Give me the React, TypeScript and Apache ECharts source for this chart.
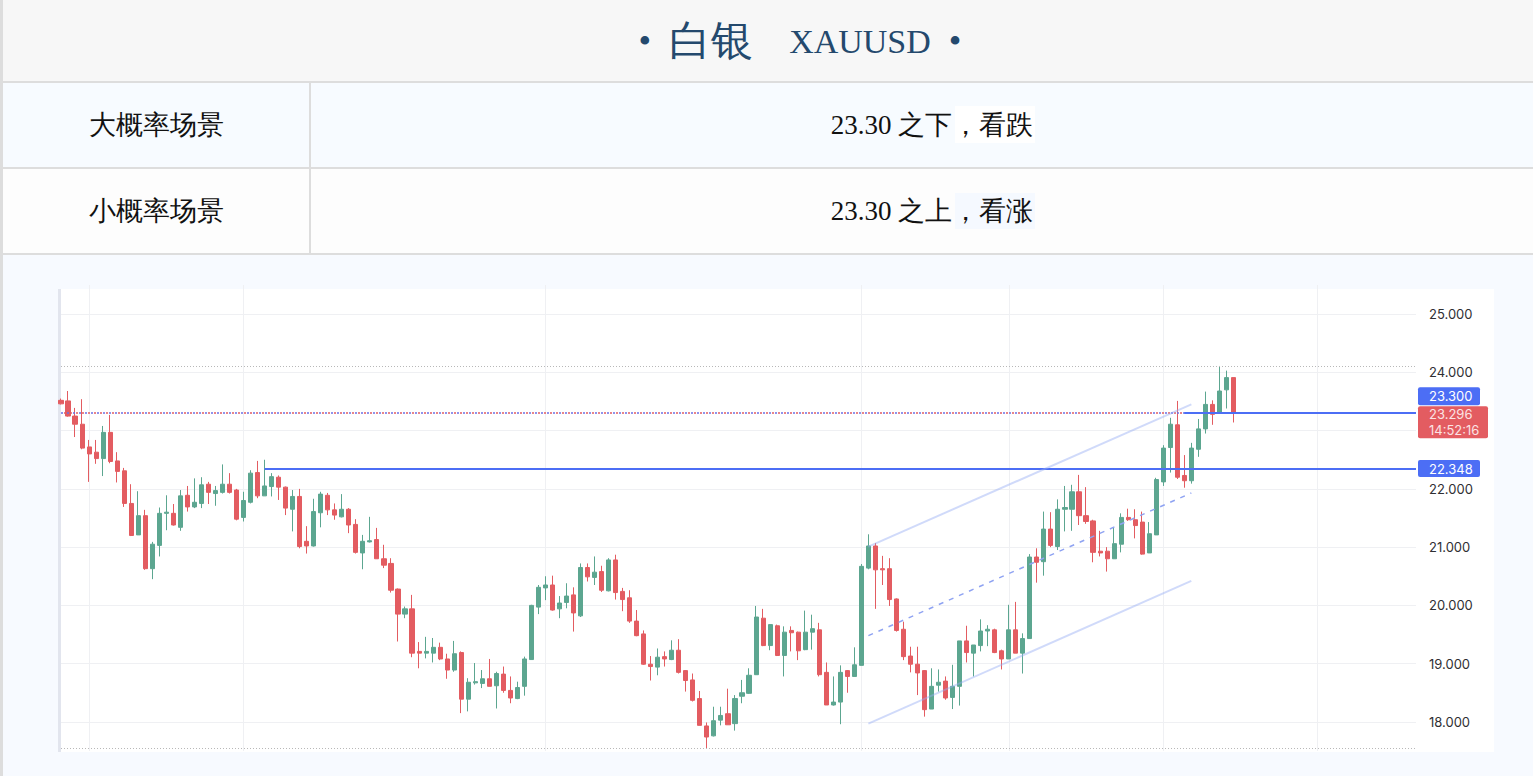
import React, { useEffect, useRef } from 'react';
import * as echarts from 'echarts';

// ---- data ----
const opens = [
  23.52, 23.51, 23.25, 23.11, 22.72, 22.63, 22.52, 22.97, 22.48, 22.31,
  21.75, 21.21, 21.54, 20.63, 21.03, 21.58, 21.58, 21.34, 21.89, 21.69,
  21.75, 22.08, 21.92, 21.94, 22.08, 21.98, 21.51, 21.77, 22.28, 21.88,
  22.04, 22.20, 22.03, 21.65, 21.87, 21.10, 21.02, 21.59, 21.89, 21.64,
  21.52, 21.65, 21.39, 20.90, 21.09, 21.13, 20.80, 20.72, 20.28, 19.85,
  19.94, 19.21, 19.18, 19.18, 19.28, 19.08, 18.89, 19.19, 18.39, 18.67,
  18.66, 18.74, 18.62, 18.82, 18.54, 18.40, 18.61, 19.07, 19.97, 20.30,
  20.35, 19.94, 20.05, 20.18, 19.82, 20.65, 20.48, 20.58, 20.25, 20.78,
  20.24, 20.13, 19.73, 19.51, 18.99, 18.94, 19.12, 19.07, 19.23, 18.88,
  18.72, 18.40, 17.93, 17.76, 18.03, 18.14, 17.97, 18.44, 18.49, 18.81,
  19.78, 19.31, 19.65, 19.14, 19.57, 19.54, 19.24, 19.54, 19.58, 18.85,
  18.29, 18.34, 18.88, 18.78, 18.97, 20.64, 21.02, 20.63, 20.63, 20.11,
  19.59, 19.13, 18.99, 18.88, 18.22, 18.63, 18.70, 18.42, 18.61, 19.39,
  19.18, 19.31, 19.56, 19.58, 19.22, 19.08, 19.58, 19.18, 19.43, 20.83,
  20.75, 21.31, 21.01, 21.65, 21.65, 21.95, 21.54, 21.45, 20.93, 20.93,
  20.80, 21.05, 21.51, 21.47, 21.43, 20.90, 21.21, 22.12, 22.71, 23.10,
  22.23, 22.14, 22.68, 23.03, 23.45, 23.30, 23.70, 23.91,
];
const closes = [
  23.46, 23.25, 23.11, 22.70, 22.60, 22.52, 22.97, 22.47, 22.30, 21.75,
  21.20, 21.54, 20.63, 21.05, 21.58, 21.60, 21.38, 21.88, 21.69, 21.77,
  22.07, 21.94, 21.97, 22.08, 21.94, 21.48, 21.80, 22.27, 21.88, 22.05,
  22.21, 22.03, 21.67, 21.87, 21.01, 21.02, 21.61, 21.91, 21.64, 21.55,
  21.65, 21.38, 20.91, 21.10, 21.11, 20.80, 20.69, 20.26, 19.85, 19.94,
  19.18, 19.18, 19.21, 19.28, 19.08, 18.89, 19.17, 18.39, 18.68, 18.69,
  18.74, 18.61, 18.83, 18.54, 18.41, 18.59, 19.08, 20.00, 20.31, 20.35,
  19.92, 20.04, 20.16, 19.87, 20.65, 20.49, 20.57, 20.26, 20.78, 20.22,
  20.10, 19.73, 19.48, 18.99, 18.95, 19.11, 19.08, 19.23, 18.85, 18.71,
  18.37, 17.94, 17.74, 18.02, 18.11, 17.95, 18.40, 18.50, 18.80, 19.80,
  19.31, 19.67, 19.14, 19.54, 19.53, 19.22, 19.54, 19.60, 18.81, 18.29,
  18.34, 18.85, 18.78, 18.98, 20.67, 21.02, 20.61, 20.61, 20.10, 19.57,
  19.12, 18.99, 18.84, 18.21, 18.61, 18.68, 18.41, 18.61, 19.39, 19.19,
  19.32, 19.56, 19.59, 19.19, 19.08, 19.58, 19.18, 19.43, 20.83, 20.74,
  21.31, 21.03, 21.65, 21.68, 21.95, 21.54, 21.44, 20.91, 20.90, 20.80,
  21.06, 21.51, 21.47, 21.37, 20.88, 21.23, 22.16, 22.70, 23.11, 22.20,
  22.14, 22.70, 23.03, 23.45, 23.28, 23.68, 23.91, 23.296,
];
const lows = [
  23.45, 23.24, 22.89, 22.68, 22.12, 22.43, 22.22, 22.44, 22.11, 21.69,
  21.19, 21.21, 20.61, 20.45, 20.84, 21.29, 21.37, 21.28, 21.61, 21.67,
  21.67, 21.74, 21.71, 21.92, 21.92, 21.46, 21.44, 21.75, 21.84, 21.88,
  21.87, 21.81, 21.55, 21.27, 20.98, 20.89, 21.01, 21.34, 21.55, 21.47,
  21.51, 21.24, 20.89, 20.62, 21.08, 20.80, 20.64, 20.22, 19.38, 19.78,
  19.11, 18.92, 19.09, 19.02, 19.06, 18.74, 18.86, 18.15, 18.18, 18.64,
  18.58, 18.61, 18.23, 18.50, 18.32, 18.39, 18.45, 19.07, 19.85, 20.09,
  19.91, 19.78, 19.95, 19.55, 19.80, 20.41, 20.35, 20.23, 20.24, 20.10,
  19.90, 19.70, 19.47, 18.98, 18.71, 18.80, 18.95, 19.06, 18.83, 18.52,
  18.35, 17.94, 17.55, 17.75, 17.94, 17.95, 17.85, 18.32, 18.48, 18.81,
  19.30, 19.23, 19.13, 18.78, 19.21, 19.06, 19.23, 19.24, 18.78, 18.29,
  18.28, 17.96, 18.50, 18.78, 18.97, 20.62, 19.94, 20.35, 19.99, 19.55,
  19.06, 18.85, 18.46, 18.09, 18.22, 18.52, 18.38, 18.22, 18.28, 19.02,
  18.78, 19.21, 19.30, 19.18, 18.90, 19.08, 19.18, 18.83, 19.43, 20.39,
  20.51, 21.00, 20.95, 21.27, 21.28, 21.38, 21.40, 20.74, 20.84, 20.58,
  20.80, 20.91, 21.45, 21.15, 20.87, 20.90, 21.21, 22.05, 22.28, 22.17,
  22.02, 22.09, 22.55, 22.95, 23.10, 23.30, 23.38, 23.14,
];
const highs = [
  23.55, 23.68, 23.39, 23.54, 22.84, 22.84, 23.08, 23.27, 22.63, 22.36,
  22.08, 21.96, 21.64, 21.09, 21.68, 21.89, 21.74, 21.98, 22.05, 22.18,
  22.20, 22.12, 22.05, 22.42, 22.27, 22.00, 21.95, 22.32, 22.48, 22.50,
  22.27, 22.23, 22.04, 21.98, 22.00, 21.36, 21.83, 21.95, 21.93, 21.75,
  21.91, 21.67, 21.48, 21.21, 21.52, 21.33, 21.04, 20.81, 20.29, 19.98,
  20.18, 19.37, 19.46, 19.44, 19.36, 19.17, 19.39, 19.21, 18.75, 19.01,
  18.89, 19.08, 18.86, 18.95, 18.78, 18.69, 19.12, 20.01, 20.35, 20.50,
  20.51, 20.16, 20.38, 20.31, 20.72, 20.72, 20.84, 20.68, 20.81, 20.87,
  20.30, 20.26, 19.92, 19.57, 19.13, 19.26, 19.21, 19.40, 19.42, 18.89,
  18.83, 18.53, 17.99, 18.26, 18.26, 18.57, 18.46, 18.72, 18.92, 19.99,
  19.94, 19.68, 19.67, 19.64, 19.64, 19.55, 19.91, 19.84, 19.70, 19.02,
  18.78, 18.97, 18.89, 19.28, 20.71, 21.22, 21.07, 20.85, 20.81, 20.12,
  19.72, 19.29, 19.29, 18.89, 18.92, 18.90, 18.78, 18.98, 19.39, 19.65,
  19.32, 19.76, 19.66, 19.60, 19.24, 20.01, 20.06, 19.52, 20.88, 20.98,
  21.61, 21.60, 21.82, 22.05, 22.07, 22.24, 22.03, 21.47, 21.28, 21.00,
  21.33, 21.58, 21.66, 21.65, 21.61, 21.43, 22.19, 22.75, 23.22, 23.51,
  22.58, 22.79, 23.20, 23.67, 23.52, 24.11, 24.03, 23.91,
];

const TOTAL_SLOTS = 194; // candles plus empty space to the right
const categories = Array.from({ length: TOTAL_SLOTS }, (_, i) => String(i));
const periodStartIdx = [4, 26, 69, 114, 135, 157, 179];

const resistanceLevel = 23.3;
const resistanceSolidStartIdx = 160;
const supportLevel = 22.348;
const supportStartIdx = 29;
const lastTime = '14:52:16';

const channelUpper = [[115, 21.01], [161, 23.45]];
const channelMid = [[115, 19.48], [161, 21.93]];
const channelLower = [[115, 17.97], [161, 20.42]];

const titleCn = '白银';
const titleSymbol = 'XAUUSD';
const rowLabels = ['大概率场景', '小概率场景'];
const rowValues = ['23.30 之下，看跌', '23.30 之上，看涨'];

const UP = '#5ca690';
const DOWN = '#e35c61';
const BLUE = '#4c6ef5';

export default function App() {
  const ref = useRef<HTMLDivElement>(null);

  useEffect(() => {
    document.body.style.margin = '0';
    const el = ref.current!;
    const chart = echarts.init(el, null, { renderer: 'svg' });
    const last = TOTAL_SLOTS - 1;
    const candleData = opens.map((o, i) => [o, closes[i], lows[i], highs[i]]);
    const maxHigh = Math.max(...highs);
    const minLow = Math.min(...lows);
    const lastClose = closes[closes.length - 1];

    const hLine = (from: number, value: number, lineStyle: any) => [
      { coord: [from, value], lineStyle },
      { coord: [last, value] },
    ];
    const seg = (pts: number[][], lineStyle: any) => [
      { coord: pts[0], lineStyle },
      { coord: pts[1] },
    ];

    const option: any = {
      animation: false,
      backgroundColor: 'transparent',
      grid: { left: 61, top: 285, width: 1355, height: 466 },
      xAxis: {
        type: 'category',
        data: categories,
        boundaryGap: false,
        axisLine: { show: false },
        axisTick: { show: false },
        axisLabel: { show: false },
        splitLine: {
          show: true,
          interval: (i: number) => periodStartIdx.includes(i),
          lineStyle: { color: '#eff0f3', width: 1 },
        },
      },
      yAxis: {
        type: 'value',
        position: 'right',
        min: 17.5,
        max: 25.5,
        interval: 0.5,
        axisLine: { show: false },
        axisTick: { show: false },
        axisLabel: {
          margin: 13,
          color: '#2f2f33',
          fontSize: 13,
          fontFamily: 'Inter',
          formatter: (v: number) => {
            const r = Math.round(v);
            if (Math.abs(v - r) > 1e-6 || r === 23) return '';
            return v.toFixed(3);
          },
        },
        splitLine: {
          show: true,
          lineStyle: { color: ['rgba(0,0,0,0)', '#eff0f3'], width: 1 },
        },
      },
      series: [
        {
          type: 'candlestick',
          data: candleData,
          barWidth: 4.6,
          clip: true,
          itemStyle: {
            color: UP,
            color0: DOWN,
            borderColor: UP,
            borderColor0: DOWN,
            borderWidth: 1,
          },
          markLine: {
            silent: true,
            symbol: ['none', 'none'],
            label: { show: false },
            animation: false,
            data: [
              hLine(0, maxHigh, { color: '#b8b8b8', width: 1, type: [1, 2] }),
              hLine(0, minLow, { color: '#b8b8b8', width: 1, type: [1, 2] }),
              hLine(0, resistanceLevel, { color: '#6a70e8', width: 1.5, type: [2, 4] }),
              hLine(0, resistanceLevel, { color: DOWN, width: 1.5, type: [2, 4], dashOffset: 3 }),
              hLine(resistanceSolidStartIdx, resistanceLevel, { color: BLUE, width: 2, type: 'solid' }),
              hLine(supportStartIdx, supportLevel, { color: BLUE, width: 2, type: 'solid' }),
              seg(channelUpper, { color: 'rgba(150,172,245,0.45)', width: 2, type: 'solid' }),
              seg(channelLower, { color: 'rgba(150,172,245,0.45)', width: 2, type: 'solid' }),
              seg(channelMid, { color: '#8fa3f2', width: 1.5, type: [5, 6] }),
            ],
          },
        },
      ],
    };
    chart.setOption(option);

    const yRes = chart.convertToPixel({ yAxisIndex: 0 }, resistanceLevel) as number;
    const ySup = chart.convertToPixel({ yAxisIndex: 0 }, supportLevel) as number;
    const labelX = 1418;
    const lblFont = { fontFamily: 'Inter', fontSize: 13 };
    const serif = 'Liberation Serif, serif';
    const titleColor = '#24496d';

    const graphic: any[] = [
      {
        type: 'text', x: 800, y: 41,
        style: {
          text: `{d|•}{s|  }{c|${titleCn}}{s|    }{l|${titleSymbol}}{s|  }{d|•}`,
          align: 'center', verticalAlign: 'middle',
          fontFamily: serif, fontSize: 36, fill: titleColor,
          rich: {
            d: { fontSize: 36, fontFamily: serif, fill: titleColor },
            s: { fontSize: 36, fontFamily: serif, fill: titleColor },
            c: { fontSize: 42, fontFamily: serif, fill: titleColor },
            l: { fontSize: 34, fontFamily: serif, fill: titleColor },
          },
        },
      },
      { type: 'rect', shape: { x: 955, y: 106, width: 80, height: 37 }, style: { fill: '#ffffff' } },
      { type: 'rect', shape: { x: 955, y: 193, width: 80, height: 36 }, style: { fill: '#f5f9ff' } },
    ];
    rowLabels.forEach((t, i) => {
      const cy = 125 + i * 86;
      graphic.push({
        type: 'text', x: 156, y: cy,
        style: { text: t, fill: '#111', fontSize: 26.5, fontFamily: serif, align: 'center', verticalAlign: 'middle' },
      });
      graphic.push({
        type: 'text', x: 932, y: cy,
        style: { text: rowValues[i], fill: '#111', fontSize: 27, fontFamily: serif, align: 'center', verticalAlign: 'middle' },
      });
    });
    graphic.push(
      { type: 'rect', shape: { x: labelX, y: yRes - 26, width: 62, height: 18, r: 2 }, style: { fill: BLUE } },
      { type: 'text', x: labelX + 11, y: yRes - 17, style: { text: resistanceLevel.toFixed(3), fill: '#fff', ...lblFont, verticalAlign: 'middle' } },
      { type: 'rect', shape: { x: labelX, y: yRes - 7, width: 70, height: 32, r: 2 }, style: { fill: DOWN } },
      { type: 'text', x: labelX + 11, y: yRes + 1, style: { text: lastClose.toFixed(3), fill: '#fbe3e4', ...lblFont, verticalAlign: 'middle' } },
      { type: 'text', x: labelX + 11, y: yRes + 17, style: { text: lastTime, fill: '#fbe3e4', ...lblFont, verticalAlign: 'middle' } },
      { type: 'rect', shape: { x: labelX, y: ySup - 8.5, width: 62, height: 17, r: 2 }, style: { fill: BLUE } },
      { type: 'text', x: labelX + 11, y: ySup, style: { text: supportLevel.toFixed(3), fill: '#fff', ...lblFont, verticalAlign: 'middle' } },
    );
    chart.setOption({ graphic });

    return () => chart.dispose();
  }, []);

  const abs = (l: number, t: number, w: number, h: number, bg: string): React.CSSProperties => ({
    position: 'absolute', left: l, top: t, width: w, height: h, background: bg,
  });

  return (
    <div style={{ position: 'absolute', left: 0, top: 0, width: 1533, height: 776, overflow: 'hidden' }}>
      <div style={abs(0, 0, 1533, 81, '#f7f7f7')} />
      <div style={abs(0, 81, 1533, 2, '#dddddd')} />
      <div style={abs(0, 83, 1533, 84, '#f7fbff')} />
      <div style={abs(0, 167, 1533, 2, '#dddddd')} />
      <div style={abs(0, 169, 1533, 84, '#fdfdfd')} />
      <div style={abs(0, 253, 1533, 2, '#dddddd')} />
      <div style={abs(0, 255, 1533, 521, '#f7faff')} />
      <div style={abs(309, 83, 2, 170, '#dddddd')} />
      <div style={abs(0, 0, 3, 776, '#dddddd')} />
      <div style={abs(61, 289, 1433, 463, '#ffffff')} />
      <div style={abs(58, 289, 3, 463, '#e2e5ee')} />
      <div ref={ref} style={{ position: 'absolute', left: 0, top: 0, width: 1533, height: 776 }} />
    </div>
  );
}
